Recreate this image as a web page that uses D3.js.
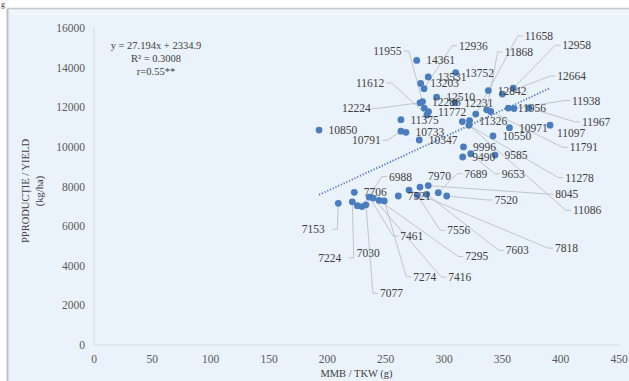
<!DOCTYPE html>
<html><head><meta charset="utf-8">
<script src="https://cdn.jsdelivr.net/npm/d3@7"></script>
<style>body{margin:0;background:#fff}svg{display:block}</style>
</head><body><svg id="c" width="629" height="381"></svg>
<script>
// ---- data ----
const yieldVals = [14361,13752,13531,13203,12958,12936,12842,12664,12510,12286,12231,12224,11967,11956,11955,11938,11868,11791,11772,11658,11612,11375,11326,11278,11097,11086,10971,10850,10791,10733,10550,10347,9996,9653,9585,9490,8045,7970,7818,7706,7689,7603,7556,7521,7520,7461,7416,7295,7274,7224,7153,7077,7030,6988];
const tkwVals   = [276.6,310.0,286.5,280.0,359.4,282.9,338.0,350.0,293.7,281.6,309.4,279.4,372.9,355.1,283.1,360.0,336.6,340.0,286.7,327.2,285.4,263.1,321.9,315.7,390.9,321.4,356.1,192.9,263.1,267.4,342.0,278.8,316.7,322.9,343.7,316.0,286.5,279.4,270.0,223.1,295.1,285.2,277.1,260.8,302.3,236.0,239.4,244.5,248.8,221.4,209.4,233.1,225.7,229.7];
const xTicks = [0,50,100,150,200,250,300,350,400,450];
const yTicks = [0,2000,4000,6000,8000,10000,12000,14000,16000];
const slope = 27.194, intercept = 2334.9;
const eqLines = ["y = 27.194x + 2334.9", "R² = 0.3008", "r=0.55**"];
const yTitle = ["PPRODUCȚIE / YIELD", "(kg/ha)"];
const xTitle = "MMB / TKW (g)";
// label layout: offsets (px) of label left/centre from the point, for moved labels; third = draw leader line
const labelLayout = {
 11955:[-51,-57,1],12936:[35,-43,1],11658:[49,-78,1],11868:[18,-58,1],12958:[49,-43,1],12664:[55,-18,1],
 11612:[-71,-32,1],12224:[-78,5.5,1],11938:[58,-8,1],11967:[53,14,1],10791:[-49,9,1],11097:[7,8,0],
 11791:[79,36,1],11278:[103,56,1],11086:[104,85,1],9653:[31,20,1],7689:[26,-19,1],7970:[8,-11.5,0],
 6988:[27,-30,1],8045:[127,8.5,1],7520:[48,4,1],7818:[146,58,1],7603:[79,56,1],7556:[30,35,1],
 7295:[86,56,1],7461:[31,39,1],7274:[29,76,1],7416:[75,79,1],7077:[14,88.5,1],7030:[-0.5,47,0],
 7224:[-34,56,1],7153:[-36.5,26,1]
};

const svg = d3.select("#c");
const W=629,H=381;
// chart background & frame
svg.append("rect").attr("x",0).attr("y",0).attr("width",W).attr("height",H).attr("fill","#ffffff");
svg.append("rect").attr("x",8).attr("y",9).attr("width",W-8).attr("height",H-9).attr("fill","#eaf2fb");
svg.append("rect").attr("x",9).attr("y",10).attr("width",W-9).attr("height",5).attr("fill","#f1f6fc");
svg.append("line").attr("x1",7.5).attr("x2",W).attr("y1",8.5).attr("y2",8.5).attr("stroke","#c8c8c8").attr("stroke-width",1.5);
svg.append("line").attr("x1",7.5).attr("x2",7.5).attr("y1",8.5).attr("y2",H).attr("stroke","#c0c0c0").attr("stroke-width",2);
svg.append("text").attr("x",1).attr("y",6.5).attr("font-family","Liberation Serif").attr("font-size",8).attr("fill","#333").text("g");

const x = d3.scaleLinear().domain([0,450]).range([94,619]);
const y = d3.scaleLinear().domain([0,16000]).range([345,28]);
const font = "Liberation Serif, DejaVu Serif, serif";

// axes lines
svg.append("line").attr("x1",x(0)).attr("x2",x(450)).attr("y1",y(0)).attr("y2",y(0)).attr("stroke","#d9d9d9").attr("stroke-width",1);
svg.append("line").attr("x1",x(0)).attr("x2",x(0)).attr("y1",y(0)).attr("y2",y(16000)).attr("stroke","#d9d9d9").attr("stroke-width",1);

// tick labels
svg.append("g").selectAll("text").data(yTicks).join("text")
  .attr("x",85).attr("y",d=>y(d)).attr("dy","0.35em").attr("text-anchor","end")
  .attr("font-family",font).attr("font-size",11.5).attr("fill","#595959").text(d=>d);
svg.append("g").selectAll("text").data(xTicks).join("text")
  .attr("x",d=>x(d)).attr("y",359).attr("dy","0.35em").attr("text-anchor","middle")
  .attr("font-family",font).attr("font-size",11.5).attr("fill","#595959").text(d=>d);

// axis titles
yTitle.forEach((t,i)=>{
  svg.append("text").attr("transform",`translate(${25+i*14},191) rotate(-90)`).attr("text-anchor","middle")
    .attr("dy","0.35em").attr("font-family",font).attr("font-size",10.5).attr("fill","#404040").text(t);
});
svg.append("text").attr("x",356.5).attr("y",373).attr("dy","0.35em").attr("text-anchor","middle")
  .attr("font-family",font).attr("font-size",10.5).attr("fill","#404040").text(xTitle);

// equation
eqLines.forEach((t,i)=>{
  svg.append("text").attr("x",156).attr("y",45+i*13).attr("dy","0.35em").attr("text-anchor","middle")
    .attr("font-family",font).attr("font-size",10.5).attr("fill","#404040").text(t);
});

const pts = yieldVals.map((v,i)=>({v, t:tkwVals[i], px:x(tkwVals[i]), py:y(v)}));

// trendline
const xmin = d3.min(tkwVals), xmax = d3.max(tkwVals);
svg.append("line").attr("x1",x(xmin)).attr("y1",y(slope*xmin+intercept)).attr("x2",x(xmax)).attr("y2",y(slope*xmax+intercept))
  .attr("stroke","#4472c4").attr("stroke-width",1.8).attr("stroke-dasharray","1.2,1.8");

// labels layout
const lblW = 28.5;
pts.forEach(p=>{
  const L = labelLayout[p.v];
  if(L){ p.lx = p.px+L[0]; p.ly = p.py+L[1]; p.leader = L[2]; }
  else { p.lx = p.px+9.5; p.ly = p.py; p.leader = 0; }
});

// leader lines
const gl = svg.append("g");
pts.filter(p=>p.leader).forEach(p=>{
  const left = p.lx > p.px;
  const sx = left ? p.lx-2 : p.lx+lblW+2;
  const stub = left ? sx-5 : sx+5;
  const dx = p.px-stub, dy = p.py-p.ly, len = Math.hypot(dx,dy);
  const ex = p.px - dx/len*3.5, ey = p.py - dy/len*3.5;
  gl.append("path").attr("d",`M${sx},${p.ly}L${stub},${p.ly}L${ex},${ey}`)
    .attr("fill","none").attr("stroke","#bfbfbf").attr("stroke-width",0.9);
});

// points
svg.append("g").selectAll("circle").data(pts).join("circle")
  .attr("cx",d=>d.px).attr("cy",d=>d.py).attr("r",3.4).attr("fill","#4a7dbf");

// data labels
svg.append("g").selectAll("text").data(pts).join("text")
  .attr("x",d=>d.lx).attr("y",d=>d.ly).attr("dy","0.35em")
  .attr("font-family",font).attr("font-size",11.5).attr("fill","#404040").text(d=>d.v);
</script></body></html>
